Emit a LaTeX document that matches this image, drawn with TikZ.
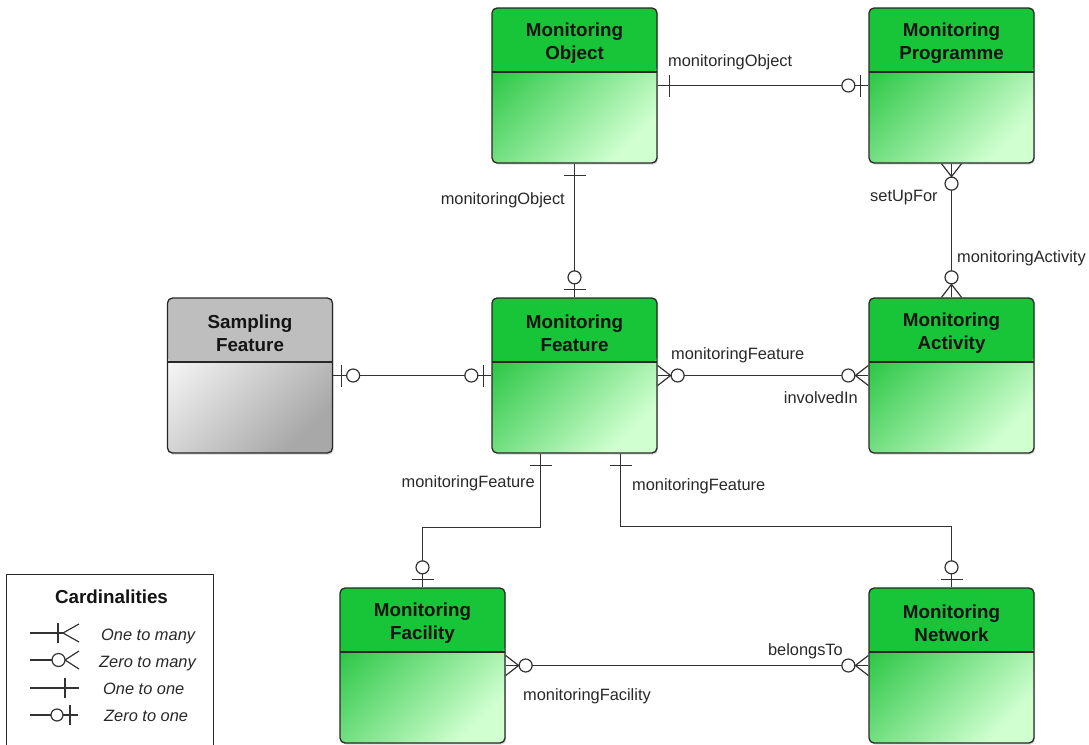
\documentclass[tikz,border=0pt]{standalone}
\usepackage{fontspec}
\setmainfont{Liberation Sans}
\usetikzlibrary{shadows}

\definecolor{hdrgreen}{RGB}{24,196,56}
\definecolor{bodydark}{RGB}{30,194,58}
\definecolor{bodylight}{RGB}{208,255,208}
\definecolor{hdrgrey}{RGB}{190,190,190}
\definecolor{greylight}{RGB}{252,252,252}
\definecolor{greydark}{RGB}{168,168,168}
\definecolor{boxline}{RGB}{40,40,40}
\definecolor{linecol}{RGB}{50,50,50}
\definecolor{txt}{RGB}{40,40,40}

\tikzset{
  ent/.style n args={3}{draw=boxline, line width=1.3pt, rounded corners=5pt,
    minimum width=165pt, minimum height=155pt, inner sep=0pt,
    drop shadow={shadow xshift=1.2pt, shadow yshift=-1.6pt, opacity=0.3},
    path picture={
      \shade[left color=#2, right color=#3, shading angle=45]
        (path picture bounding box.south west) rectangle (path picture bounding box.north east);
      \fill[#1] (path picture bounding box.north west) rectangle ([yshift=-64pt]path picture bounding box.north east);
      \draw[boxline, line width=1.3pt] ([yshift=-64pt]path picture bounding box.north west)
        -- ([yshift=-64pt]path picture bounding box.north east);
    }},
  greenent/.style={ent={hdrgreen}{bodydark}{bodylight}},
  greyent/.style={ent={hdrgrey}{greylight}{greydark}},
  title/.style={font=\fontsize{18.8}{22.5}\selectfont\bfseries, text=black!92, align=center, anchor=center, yshift=-36pt},
  conn/.style={draw=linecol, line width=1.2pt},
  lbl/.style={font=\fontsize{16.4}{19}\selectfont, text=txt, inner sep=0pt},
  leg/.style={font=\fontsize{16.4}{19}\selectfont\itshape, text=txt, inner sep=0pt, anchor=base west},
  pics/onemark/.style={code={\draw[conn] (12,-11) -- (12,11);}},
  pics/zeroone/.style={code={
    \draw[conn] (8,-11) -- (8,11);
    \draw[conn, fill=white] (20,0) circle[radius=6.5];}},
  pics/zeromany/.style={code={
    \draw[conn] (0,-10) -- (13,0) -- (0,10);
    \draw[conn, fill=white] (20,0) circle[radius=6.5];}},
}

\begin{document}
\begin{tikzpicture}[x=1pt, y=-1pt]
\useasboundingbox (0,0) rectangle (1089,744);

% entities
\node[greenent, label={[title]north:{Monitoring\\Object}}] (obj) at (574.5,85.5) {};
\node[greenent, label={[title]north:{Monitoring\\Programme}}] (prog) at (951.5,85.5) {};
\node[greyent, label={[title]north:{Sampling\\Feature}}] (samp) at (250,375.5) {};
\node[greenent, label={[title]north:{Monitoring\\Feature}}] (feat) at (574.5,375.5) {};
\node[greenent, label={[title]north:{Monitoring\\Activity}}] (act) at (951.5,375.5) {};
\node[greenent, label={[title]north:{Monitoring\\Facility}}] (fac) at (422.5,665.5) {};
\node[greenent, label={[title]north:{Monitoring\\Network}}] (net) at (951.5,665.5) {};

\coordinate (fs1) at ([xshift=-34pt]feat.south);
\coordinate (fs2) at ([xshift=46pt]feat.south);

% relationships
\draw[conn] (obj.east) -- (prog.west);
\draw[conn] (obj.south) -- (feat.north);
\draw[conn] (prog.south) -- (act.north);
\draw[conn] (samp.east) -- (feat.west);
\draw[conn] (feat.east) -- (act.west);
\draw[conn] (fs1) -- ++(0,74) -| (fac.north);
\draw[conn] (fs2) -- ++(0,73) -| (net.north);
\draw[conn] (fac.east) -- (net.west);

% cardinality ends
\pic at (obj.east) {onemark};
\pic[rotate=180] at (prog.west) {zeroone};
\pic[rotate=-90] at (obj.south) {onemark};
\pic[rotate=90] at (feat.north) {zeroone};
\pic[rotate=-90] at (prog.south) {zeromany};
\pic[rotate=90] at (act.north) {zeromany};
\pic at (samp.east) {zeroone};
\pic[rotate=180] at (feat.west) {zeroone};
\pic at (feat.east) {zeromany};
\pic[rotate=180] at (act.west) {zeromany};
\pic[rotate=-90] at (fs1) {onemark};
\pic[rotate=90] at (fac.north) {zeroone};
\pic[rotate=-90] at (fs2) {onemark};
\pic[rotate=90] at (net.north) {zeroone};
\pic at (fac.east) {zeromany};
\pic[rotate=180] at (net.west) {zeromany};

% role names
\node[lbl, anchor=base west] (l1) at (668,66) {monitoringObject};
\node[lbl, anchor=base east] (l2) at (565,204) {monitoringObject};
\node[lbl, anchor=base west] (l3) at (870,201) {setUpFor};
\node[lbl, anchor=base west] (l4) at (957,262) {monitoringActivity};
\node[lbl, anchor=base west] (l5) at (671,359) {monitoringFeature};
\node[lbl, anchor=base east] (l6) at (858,403) {involvedIn};
\node[lbl, anchor=base east] (l7) at (535,487) {monitoringFeature};
\node[lbl, anchor=base west] (l8) at (632,490) {monitoringFeature};
\node[lbl, anchor=base east] (l9) at (843,655) {belongsTo};
\node[lbl, anchor=base west] (l10) at (523,700) {monitoringFacility};

% legend
\node[draw=boxline, line width=1pt, fill=white, minimum width=207pt, minimum height=200pt,
      anchor=north west, inner sep=0pt] (legend) at (6,574) {};
\node[font=\fontsize{18.8}{22}\selectfont\bfseries, text=black!92, anchor=base, inner sep=0pt]
      (legtitle) at (111.5,603) {Cardinalities};

\draw[conn] (30,633) -- (63,633);
\draw[conn] (58,623) -- (58,643);
\draw[conn] (79,624) -- (63,633) -- (79,642);
\node[leg] (leg1) at (101,640) {One to many};

\draw[conn] (30,660) -- (52,660);
\draw[conn] (79,651) -- (65,660) -- (79,669);
\draw[conn, fill=white] (58.5,660) circle[radius=6.5];
\node[leg] (leg2) at (99,667) {Zero to many};

\draw[conn] (30,688) -- (79,688);
\draw[conn] (65,678) -- (65,698);
\node[leg] (leg3) at (103,694) {One to one};

\draw[conn] (30,715) -- (51,715);
\draw[conn] (63,715) -- (78,715);
\draw[conn] (70,705) -- (70,725);
\draw[conn, fill=white] (57,715) circle[radius=6];
\node[leg] (leg4) at (104,721) {Zero to one};
\end{tikzpicture}
\end{document}
